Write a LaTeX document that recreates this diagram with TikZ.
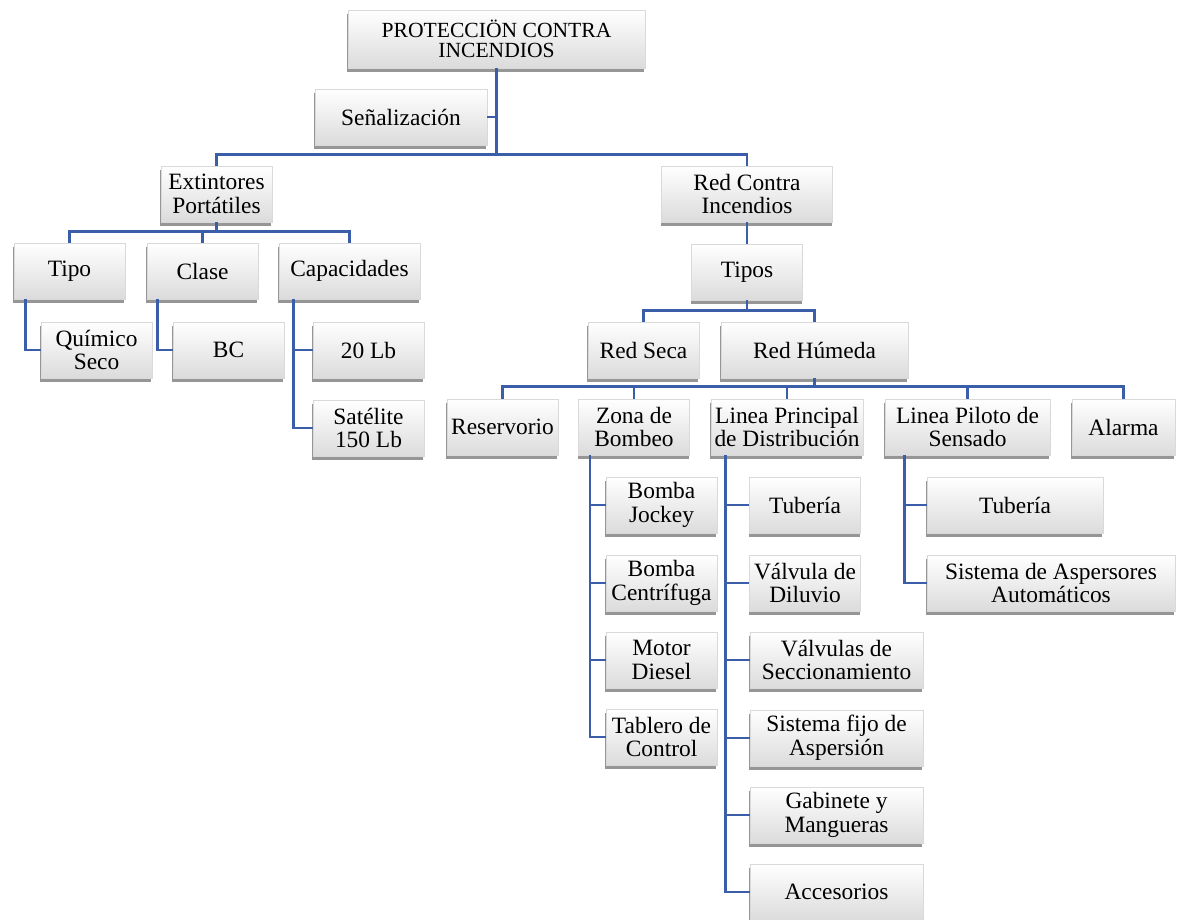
\documentclass[tikz,border=0pt]{standalone}
\usepackage{fontspec}
\setmainfont{Liberation Serif}
\usetikzlibrary{shadows}
\definecolor{azul}{RGB}{58,95,168}

\tikzset{
  caja/.style={draw=black!15, top color=white, bottom color=black!14, align=center,
    inner sep=1pt, minimum width=55.5pt, minimum height=28pt,
    font=\fontsize{11.7}{11.9}\selectfont,
    drop shadow={shadow xshift=-0.3pt, shadow yshift=-2pt, fill=black!55, opacity=0.75}},
  linea/.style={draw=azul, line width=1.3pt},
}

\begin{document}
\begin{tikzpicture}[x=0.5pt, y=-0.5pt]
		\useasboundingbox (0,0) rectangle (1177,920);

		% raiz
		\node [caja, minimum width=148.5pt, minimum height=29pt, font=\fontsize{10.8}{10}\selectfont] (raiz) at (496.5,39) {PROTECCIÖN CONTRA\\INCENDIOS};
		\node [caja, minimum width=86pt] (senal) at (401,117) {Señalización};
		\node [caja] (ext) at (216.5,194) {Extintores\\Portátiles};
		\node [caja, minimum width=85.5pt] (red) at (747,194) {Red Contra\\Incendios};

		\draw [linea] (raiz.south) -- ++(0,87);
		\draw [linea] (senal.east) -- (senal.east -| raiz.south);
		\draw [linea] (ext.north) -- ++(0,-11) -| (red.north);

		% extintores
		\node [caja] (tipo) at (69.5,271) {Tipo};
		\node [caja] (clase) at (202.5,271) {Clase};
		\node [caja, minimum width=70.5pt] (capac) at (349.5,271) {Capacidades};
		\node [caja] (quimico) at (96.5,350) {Químico\\Seco};
		\node [caja] (bc) at (228.5,350) {BC};
		\node [caja] (lb20) at (368.5,350) {20 Lb};
		\node [caja] (satel) at (368.5,428) {Satélite\\150 Lb};

		\draw [linea] (ext.south) -- ++(0,10);
		\draw [linea] (tipo.north) -- ++(0,-11) -| (capac.north);
		\draw [linea] (clase.north) -- ++(0,-11);
		\draw [linea] ([xshift=6pt]tipo.south west) |- (quimico.west);
		\draw [linea] ([xshift=5.5pt]clase.south west) |- (bc.west);
		\draw [linea] ([xshift=7.5pt]capac.south west) |- (lb20.west);
		\draw [linea] ([xshift=7.5pt]capac.south west) |- (satel.west);

		% red contra incendios
		\node [caja] (tipos) at (747,272) {Tipos};
		\node [caja] (rseca) at (643.5,350) {Red Seca};
		\node [caja, minimum width=93.5pt] (rhumeda) at (814.5,350) {Red Húmeda};

		\draw [linea] (red.south) -- (tipos.north);
		\draw [linea] (tipos.south) -- ++(0,11);
		\draw [linea] (rseca.north) -- ++(0,-11) -| (rhumeda.north);

		% red humeda
		\node [caja] (reserv) at (502.5,427) {Reservorio};
		\node [caja] (zona) at (634,427) {Zona de\\Bombeo};
		\node [caja, minimum width=76pt] (lprinc) at (787,427) {Linea Principal\\de Distribución};
		\node [caja, minimum width=82.5pt] (lpiloto) at (967.5,427) {Linea Piloto de\\Sensado};
		\node [caja, minimum width=51.5pt] (alarma) at (1123.5,427) {Alarma};

		\draw [linea] (rhumeda.south) -- ++(0,9);
		\draw [linea] (reserv.north) -- ++(0,-12) -| (alarma.north);
		\draw [linea] (zona.north) -- ++(0,-12);
		\draw [linea] (lprinc.north) -- ++(0,-12);
		\draw [linea] (lpiloto.north) -- ++(0,-12);

		% zona de bombeo
		\node [caja] (jockey) at (661.5,505) {Bomba\\Jockey};
		\node [caja] (centrif) at (661.5,583) {Bomba\\Centrífuga};
		\node [caja] (motor) at (661.5,660) {Motor\\Diesel};
		\node [caja] (tablero) at (661.5,737) {Tablero de\\Control};

		\draw [linea] ([xshift=6pt]zona.south west) |- (jockey.west);
		\draw [linea] ([xshift=6pt]zona.south west) |- (centrif.west);
		\draw [linea] ([xshift=6pt]zona.south west) |- (motor.west);
		\draw [linea] ([xshift=6pt]zona.south west) |- (tablero.west);

		% linea principal
		\node [caja] (tuberia) at (805,505) {Tubería};
		\node [caja] (diluvio) at (805,583) {Válvula de\\Diluvio};
		\node [caja, minimum width=86.5pt] (seccion) at (836.5,660) {Válvulas de\\Seccionamiento};
		\node [caja, minimum width=86.5pt] (fijo) at (836.5,738) {Sistema fijo de\\Aspersión};
		\node [caja, minimum width=86.5pt] (gabinete) at (836.5,815) {Gabinete y\\Mangueras};
		\node [caja, minimum width=86.5pt] (acces) at (836.5,892) {Accesorios};

		\draw [linea] ([xshift=7.5pt]lprinc.south west) |- (tuberia.west);
		\draw [linea] ([xshift=7.5pt]lprinc.south west) |- (diluvio.west);
		\draw [linea] ([xshift=7.5pt]lprinc.south west) |- (seccion.west);
		\draw [linea] ([xshift=7.5pt]lprinc.south west) |- (fijo.west);
		\draw [linea] ([xshift=7.5pt]lprinc.south west) |- (gabinete.west);
		\draw [linea] ([xshift=7.5pt]lprinc.south west) |- (acces.west);

		% linea piloto
		\node [caja, minimum width=88pt] (tuberia2) at (1015,505) {Tubería};
		\node [caja, minimum width=124pt] (aspers) at (1051,583) {Sistema de Aspersores\\Automáticos};

		\draw [linea] ([xshift=10pt]lpiloto.south west) |- (tuberia2.west);
		\draw [linea] ([xshift=10pt]lpiloto.south west) |- (aspers.west);
	\end{tikzpicture}
\end{document}
